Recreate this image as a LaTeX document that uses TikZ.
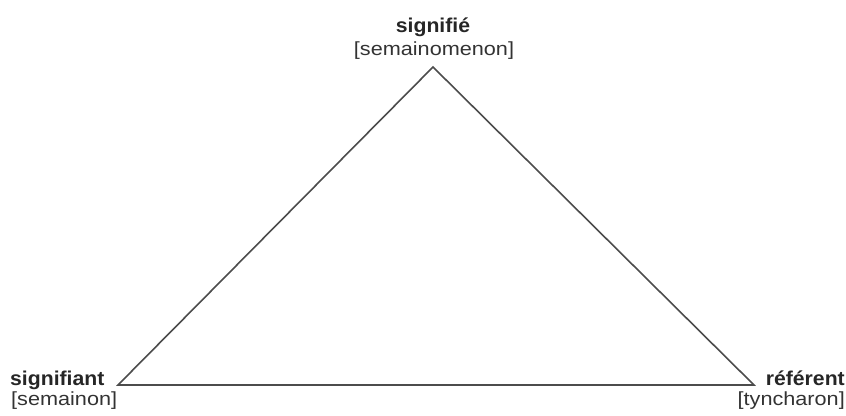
\documentclass[tikz,border=0pt]{standalone}
\usepackage{fontspec}
\setmainfont{Liberation Sans}
\newfontfamily\lblfont[FakeStretch=1.06]{Liberation Sans}
\newfontfamily\subfont[FakeStretch=1.14]{Liberation Sans}
\begin{document}
\begin{tikzpicture}[x=1pt,y=-1pt,
  lbl/.style={inner sep=0pt, font=\lblfont\fontsize{20}{24}\selectfont\bfseries, text=black!85},
  sub/.style={inner sep=0pt, font=\subfont\fontsize{19}{23}\selectfont, text=black!80},
  edge/.style={draw=black!70, line width=1.6pt, line join=miter}]
\useasboundingbox (0,0) rectangle (846,415);
\coordinate (T) at (433,67);
\coordinate (L) at (118,385);
\coordinate (R) at (754,385);
\draw[edge] (L) -- (T) -- (R) -- cycle;
\node[lbl, anchor=base] (signifie) at (433,32) {signifié};
\node[sub, anchor=base] (semainomenon) at (434,55) {[semainomenon]};
\node[lbl, anchor=base west] (signifiant) at (10,385) {signifiant};
\node[sub, anchor=base west] (semainon) at (11,405) {[semainon]};
\node[lbl, anchor=base east] (referent) at (845,385) {référent};
\node[sub, anchor=base east] (tyncharon) at (845,405) {[tyncharon]};
\end{tikzpicture}
\end{document}
